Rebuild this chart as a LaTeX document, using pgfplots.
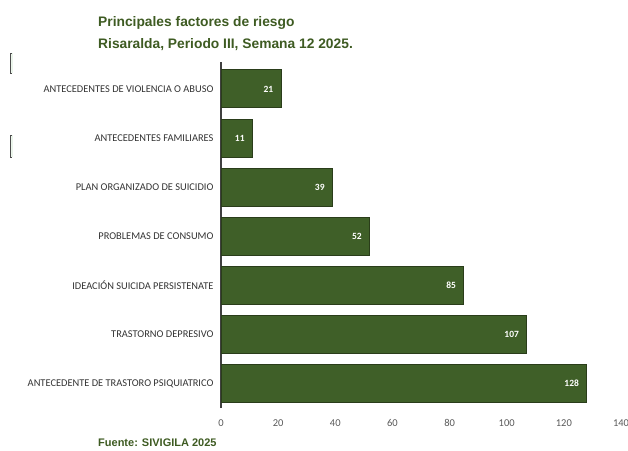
\documentclass[border=0pt]{standalone}
\usepackage{pgfplots}
\pgfplotsset{compat=1.18}
\usepackage{fontspec}
\setmainfont{Carlito}
\newfontfamily\arialf{Liberation Sans}

\definecolor{barfill}{HTML}{3F5F28}
\definecolor{baredge}{HTML}{2A3D1A}
\definecolor{titlegreen}{HTML}{3E5B22}
\definecolor{axisgray}{HTML}{404040}
\definecolor{ticktext}{HTML}{595959}

\begin{document}
\begin{tikzpicture}[x=1pt,y=1pt]
  \path[use as bounding box] (0,0) rectangle (628,450);

  % titulo
  \node[anchor=north west, align=left, inner sep=0pt, text=titlegreen,
        font=\arialf\bfseries\fontsize{13.8}{22}\selectfont] at (98,434)
    {Principales factores de riesgo\\Risaralda, Periodo III, Semana 12 2025.};

  \begin{axis}[
      at={(221pt,42pt)}, anchor=south west,
      scale only axis,
      width=400pt, height=346pt,
      xbar,
      bar width=38pt,
      xmin=0, xmax=140,
      ymin=-0.5, ymax=6.55,
      xtick={0,20,...,140},
      ytick={0,...,6},
      yticklabels={ANTECEDENTE DE TRASTORO PSIQUIATRICO,
                   TRASTORNO DEPRESIVO,
                   IDEACIÓN SUICIDA PERSISTENATE,
                   PROBLEMAS DE CONSUMO,
                   PLAN ORGANIZADO DE SUICIDIO,
                   ANTECEDENTES FAMILIARES,
                   ANTECEDENTES DE VIOLENCIA O ABUSO},
      axis x line=bottom, axis y line=left,
      axis line style={-},
      x axis line style={draw=none},
      y axis line style={draw=axisgray, line width=2.5pt},
      major tick length=0pt,
      tick style={draw=none},
      xticklabel style={text=ticktext, font=\fontsize{10.5}{12}\selectfont, yshift=-8pt},
      yticklabel style={text=black!80, font=\fontsize{10.4}{12}\selectfont, xshift=-4pt},
      /pgf/number format/assume math mode=true,
      nodes near coords,
      every node near coord/.append style={anchor=east, xshift=-4pt,
          text=white, font=\bfseries\fontsize{9.5}{11}\selectfont},
      clip=false,
    ]
    \addplot[fill=barfill, draw=baredge, line width=1pt] coordinates {
      (128,0) (107,1) (85,2) (52,3) (39,4) (11,5) (21,6)
    };
  \end{axis}

  % fuente
  \node[anchor=west, inner sep=0pt, text=titlegreen,
        font=\arialf\bfseries\fontsize{11}{13}\selectfont] at (98,7) {Fuente: SIVIGILA 2025};

  % marcas al borde izquierdo
  \foreach \a/\b in {377/397, 293/315}{
    \fill[green!50!black!8] (10,\a) rectangle (13,\b);
    \draw[black!70, line width=0.8pt] (10,\a) -- (10,\b);
    \draw[black!70, line width=0.8pt] (10,\a) -- (12,\a) (10,\b) -- (12,\b);
  }
\end{tikzpicture}
\end{document}
